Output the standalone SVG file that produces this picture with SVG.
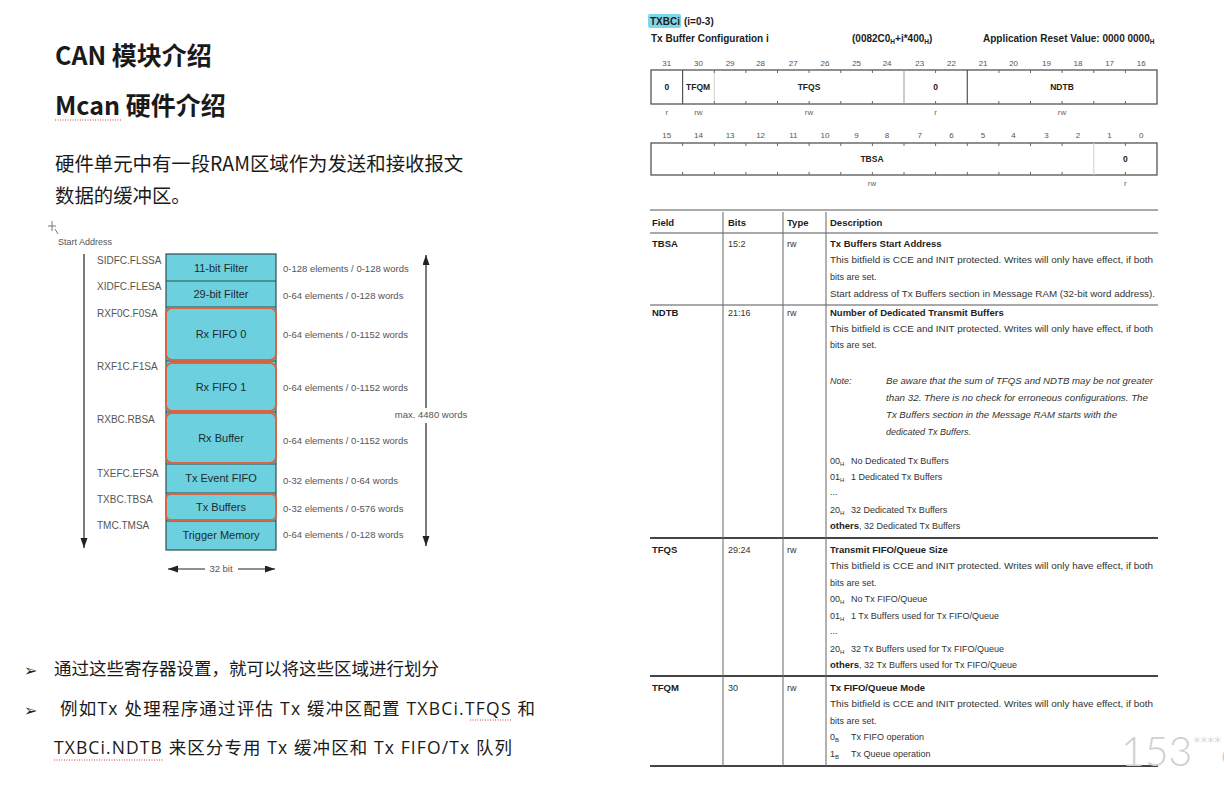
<svg xmlns="http://www.w3.org/2000/svg" width="1224" height="789" viewBox="0 0 1224 789">
  <style>
    .cjk { font-family: "Noto Sans CJK SC", "Noto Sans", sans-serif; fill: #1a1a1a; }
    .h1 { font-size: 25px; font-weight: 700; }
    .body { font-size: 19.4px; }
    .bul { font-family: "Open Sans", "Noto Sans CJK SC", sans-serif; font-size: 17.5px; fill: #1a1a1a; }
    .mark { font-family: "DejaVu Sans", sans-serif; font-size: 16px; fill: #222; }
    .spell { stroke: #d23c3c; stroke-width: 1; stroke-dasharray: 1 1.5; fill: none; }
    .mm { font-family: "Liberation Sans", Arial, sans-serif; fill: #555; }
    .addr { font-size: 10px; }
    .size { font-size: 9.5px; }
    .blk { font-size: 11px; fill: #1d2b30; text-anchor: middle; }
    .area { fill: #6dd0de; stroke: #2f4f55; stroke-width: 1.2; }
    .sep { stroke: #2f4f55; stroke-width: 1; }
    .hl { fill: none; stroke: #d9663f; stroke-width: 2; }
    .arr { stroke: #222; stroke-width: 1.2; fill: none; }
    .rt { font-family: "Liberation Sans", Arial, sans-serif; font-size: 9px; fill: #333; }
    .rb { font-weight: 700; fill: #1c1c1c; font-size: 9.5px; }
    .hd { font-family: "Liberation Sans", Arial, sans-serif; font-size: 10px; font-weight: 700; fill: #1c1c1c; }
    .ri { font-style: italic; }
    .num { font-family: "Liberation Sans", Arial, sans-serif; font-size: 8px; fill: #555; text-anchor: middle; }
    .acc { font-family: "Liberation Sans", Arial, sans-serif; font-size: 8px; fill: #666; text-anchor: middle; }
    .fld { font-family: "Liberation Sans", Arial, sans-serif; font-size: 8.5px; font-weight: 700; fill: #222; text-anchor: middle; }
    .fld-l { font-family: "Liberation Sans", Arial, sans-serif; font-size: 8.5px; font-weight: 700; fill: #222; }
    .reg { fill: none; stroke: #555; stroke-width: 1.3; }
    .tick { stroke: #666; stroke-width: 1; }
    .div-dark { stroke: #555; stroke-width: 1.2; }
    .div-mid { stroke: #999; stroke-width: 1; }
    .div-light { stroke: #d0d0d0; stroke-width: 1; }
    .tl { stroke: #555; stroke-width: 1; }
    .tl-thick { stroke: #444; stroke-width: 2; }
    .col { stroke: #666; stroke-width: 1; }
    .wm { font-family: Lato, "Open Sans", sans-serif; font-weight: 300; fill: #d0d0d0; }
  </style>
  <defs>
    <marker id="head" markerUnits="userSpaceOnUse" markerWidth="10" markerHeight="8" refX="10" refY="3.5" orient="auto">
      <path d="M0,0 L10,3.5 L0,7 z" fill="#222"/>
    </marker>
  </defs>

  <rect width="1224" height="789" fill="#ffffff"/>

  <!-- Slide headings -->
  <g id="titles">
    <text class="cjk h1" x="55" y="65">CAN 模块介绍</text>
    <text class="cjk h1" x="55" y="115">Mcan 硬件介绍</text>
    <line class="spell" x1="55" y1="120" x2="122" y2="120"/>
    <text class="cjk body" x="55" y="171">硬件单元中有一段RAM区域作为发送和接收报文</text>
    <text class="cjk body" x="55" y="203">数据的缓冲区。</text>
  </g>

  <!-- Message RAM layout -->
  <g id="memory-map">
    <g stroke="#777" stroke-width="1">
      <line x1="52" y1="221" x2="52" y2="231"/>
      <line x1="48" y1="226" x2="56" y2="226"/>
      <line x1="55" y1="229" x2="58" y2="234"/>
    </g>
    <text class="mm" x="58" y="245" font-size="9">Start Address</text>

    <rect class="area" x="166" y="254" width="110" height="296"/>
    <line class="sep" x1="166" y1="281" x2="276" y2="281"/>
    <line class="sep" x1="166" y1="307" x2="276" y2="307"/>
    <line class="sep" x1="166" y1="361" x2="276" y2="361"/>
    <line class="sep" x1="166" y1="412" x2="276" y2="412"/>
    <line class="sep" x1="166" y1="464" x2="276" y2="464"/>
    <line class="sep" x1="166" y1="493" x2="276" y2="493"/>
    <line class="sep" x1="166" y1="521" x2="276" y2="521"/>

    <rect class="hl" x="166" y="308" width="110" height="52" rx="6"/>
    <rect class="hl" x="166" y="363" width="110" height="48" rx="6"/>
    <rect class="hl" x="166" y="413" width="110" height="50" rx="6"/>
    <rect class="hl" x="166" y="494" width="110" height="26" rx="5"/>

    <text class="mm blk" x="221" y="272">11-bit Filter</text>
    <text class="mm blk" x="221" y="298">29-bit Filter</text>
    <text class="mm blk" x="221" y="338">Rx FIFO 0</text>
    <text class="mm blk" x="221" y="391">Rx FIFO 1</text>
    <text class="mm blk" x="221" y="442">Rx Buffer</text>
    <text class="mm blk" x="221" y="482">Tx Event FIFO</text>
    <text class="mm blk" x="221" y="511">Tx Buffers</text>
    <text class="mm blk" x="221" y="539">Trigger Memory</text>

    <text class="mm addr" x="97" y="264">SIDFC.FLSSA</text>
    <text class="mm addr" x="97" y="290">XIDFC.FLESA</text>
    <text class="mm addr" x="97" y="317">RXF0C.F0SA</text>
    <text class="mm addr" x="97" y="370">RXF1C.F1SA</text>
    <text class="mm addr" x="97" y="423">RXBC.RBSA</text>
    <text class="mm addr" x="97" y="477">TXEFC.EFSA</text>
    <text class="mm addr" x="97" y="503">TXBC.TBSA</text>
    <text class="mm addr" x="97" y="529">TMC.TMSA</text>

    <text class="mm size" x="283" y="272">0-128 elements / 0-128 words</text>
    <text class="mm size" x="283" y="299">0-64 elements / 0-128 words</text>
    <text class="mm size" x="283" y="338">0-64 elements / 0-1152 words</text>
    <text class="mm size" x="283" y="391">0-64 elements / 0-1152 words</text>
    <text class="mm size" x="283" y="444">0-64 elements / 0-1152 words</text>
    <text class="mm size" x="283" y="484">0-32 elements / 0-64 words</text>
    <text class="mm size" x="283" y="512">0-32 elements / 0-576 words</text>
    <text class="mm size" x="283" y="538">0-64 elements / 0-128 words</text>

    <text class="mm size" x="431" y="418" text-anchor="middle">max. 4480 words</text>
    <text class="mm size" x="221" y="572" text-anchor="middle">32 bit</text>
  </g>

  <g id="connectors">
    <line class="arr" x1="84" y1="254" x2="84" y2="548" marker-end="url(#head)"/>
    <line class="arr" x1="426" y1="408" x2="426" y2="255" marker-end="url(#head)"/>
    <line class="arr" x1="426" y1="423" x2="426" y2="546" marker-end="url(#head)"/>
    <line class="arr" x1="205" y1="569" x2="168" y2="569" marker-end="url(#head)"/>
    <line class="arr" x1="238" y1="569" x2="275" y2="569" marker-end="url(#head)"/>
  </g>

  <!-- Bullet notes -->
  <g id="notes">
    <text class="mark" x="24" y="676">➢</text>
    <text class="bul" x="54" y="675">通过这些寄存器设置，就可以将这些区域进行划分</text>
    <text class="mark" x="24" y="716">➢</text>
    <text class="bul" x="60" y="715" textLength="475" lengthAdjust="spacing">例如Tx 处理程序通过评估 Tx 缓冲区配置 TXBCi.TFQS 和</text>
    <line class="spell" x1="470" y1="720" x2="511" y2="720"/>
    <text class="bul" x="54" y="754" textLength="458" lengthAdjust="spacing">TXBCi.NDTB 来区分专用 Tx 缓冲区和 Tx FIFO/Tx 队列</text>
    <line class="spell" x1="54" y1="760" x2="163" y2="760"/>
  </g>

  <!-- TXBCi register header -->
  <g id="register-header">
    <rect x="648" y="14" width="33" height="14" rx="2" fill="#7fd6ea"/>
    <text class="hd" x="650" y="25" font-size="9.5">TXBCi</text>
    <text class="hd" x="684" y="25" font-size="9.5">(i=0-3)</text>
    <text class="hd" x="651" y="42">Tx Buffer Configuration i</text>
    <text class="hd" x="852" y="42">(0082C0<tspan font-size="6.5" dy="2">H</tspan><tspan dy="-2">+i*400</tspan><tspan font-size="6.5" dy="2">H</tspan><tspan dy="-2">)</tspan></text>
    <text class="hd" x="983" y="42">Application Reset Value: 0000 0000<tspan font-size="6.5" dy="2">H</tspan></text>
  </g>

  <!-- Upper half-word, bits 31..16 -->
  <g id="register-high">
    <text class="num" y="66">
      <tspan x="666.8">31</tspan><tspan x="698.4">30</tspan><tspan x="730.1">29</tspan><tspan x="761.7">28</tspan>
      <tspan x="793.3">27</tspan><tspan x="825">26</tspan><tspan x="856.6">25</tspan><tspan x="888.2">24</tspan>
      <tspan x="919.8">23</tspan><tspan x="951.5">22</tspan><tspan x="983.1">21</tspan><tspan x="1014.7">20</tspan>
      <tspan x="1046.4">19</tspan><tspan x="1078">18</tspan><tspan x="1109.6">17</tspan><tspan x="1141.2">16</tspan>
    </text>
    <rect class="reg" x="651" y="70" width="506" height="34"/>
    <g class="tick">
      <path d="M714.3,70v3M745.9,70v3M777.5,70v3M809.1,70v3M840.8,70v3M872.4,70v3M935.6,70v3M998.9,70v3M1030.5,70v3M1062.1,70v3M1093.8,70v3M1125.4,70v3"/>
      <path d="M714.3,104v-3M745.9,104v-3M777.5,104v-3M809.1,104v-3M840.8,104v-3M872.4,104v-3M935.6,104v-3M998.9,104v-3M1030.5,104v-3M1062.1,104v-3M1093.8,104v-3M1125.4,104v-3"/>
    </g>
    <line class="div-dark" x1="682.6" y1="70" x2="682.6" y2="104"/>
    <line class="div-light" x1="714.3" y1="73" x2="714.3" y2="101"/>
    <line class="div-mid" x1="904" y1="70" x2="904" y2="104"/>
    <line class="div-dark" x1="967.3" y1="70" x2="967.3" y2="104"/>
    <text class="fld" x="666.8" y="90">0</text>
    <text class="fld-l" x="686" y="90">TFQM</text>
    <text class="fld" x="809" y="90">TFQS</text>
    <text class="fld" x="935.6" y="90">0</text>
    <text class="fld" x="1062" y="90">NDTB</text>
    <text class="acc" y="115">
      <tspan x="666.8">r</tspan><tspan x="698.4">rw</tspan><tspan x="809">rw</tspan><tspan x="935.6">r</tspan><tspan x="1062">rw</tspan>
    </text>
  </g>

  <!-- Lower half-word, bits 15..0 -->
  <g id="register-low">
    <text class="num" y="138">
      <tspan x="666.8">15</tspan><tspan x="698.4">14</tspan><tspan x="730.1">13</tspan><tspan x="761.7">12</tspan>
      <tspan x="793.3">11</tspan><tspan x="825">10</tspan><tspan x="856.6">9</tspan><tspan x="888.2">8</tspan>
      <tspan x="919.8">7</tspan><tspan x="951.5">6</tspan><tspan x="983.1">5</tspan><tspan x="1014.7">4</tspan>
      <tspan x="1046.4">3</tspan><tspan x="1078">2</tspan><tspan x="1109.6">1</tspan><tspan x="1141.2">0</tspan>
    </text>
    <rect class="reg" x="651" y="143" width="506" height="32"/>
    <g class="tick">
      <path d="M682.6,143v3M714.3,143v3M745.9,143v3M777.5,143v3M809.1,143v3M840.8,143v3M872.4,143v3M904,143v3M935.6,143v3M967.3,143v3M998.9,143v3M1030.5,143v3M1062.1,143v3M1125.4,143v3"/>
      <path d="M682.6,175v-3M714.3,175v-3M745.9,175v-3M777.5,175v-3M809.1,175v-3M840.8,175v-3M872.4,175v-3M904,175v-3M935.6,175v-3M967.3,175v-3M998.9,175v-3M1030.5,175v-3M1062.1,175v-3M1125.4,175v-3"/>
    </g>
    <line class="div-light" x1="1093.8" y1="143" x2="1093.8" y2="175"/>
    <text class="fld" x="872" y="162">TBSA</text>
    <text class="fld" x="1125.4" y="162">0</text>
    <text class="acc" y="186"><tspan x="872">rw</tspan><tspan x="1125.4">r</tspan></text>
  </g>

  <!-- Field description table -->
  <g id="field-table">
    <line class="tl" x1="650" y1="210" x2="1158" y2="210" stroke-width="1.5"/>
    <line class="tl" x1="650" y1="233" x2="1158" y2="233"/>
    <line class="tl" x1="650" y1="305" x2="1158" y2="305"/>
    <line class="tl-thick" x1="650" y1="538" x2="1158" y2="538"/>
    <line class="tl-thick" x1="650" y1="676" x2="1158" y2="676"/>
    <line class="tl-thick" x1="650" y1="766" x2="1158" y2="766"/>
    <line class="col" x1="723" y1="212" x2="723" y2="766"/>
    <line class="col" x1="783" y1="212" x2="783" y2="766"/>
    <line class="col" x1="826" y1="212" x2="826" y2="766"/>

    <text class="rt rb" x="652" y="226">Field</text>
    <text class="rt rb" x="728" y="226">Bits</text>
    <text class="rt rb" x="787" y="226">Type</text>
    <text class="rt rb" x="830" y="226">Description</text>
  </g>

  <g id="row-tbsa">
    <text class="rt rb" x="652" y="247">TBSA</text>
    <text class="rt" x="728" y="247">15:2</text>
    <text class="rt" x="787" y="247">rw</text>
    <text class="rt rb" x="830" y="247">Tx Buffers Start Address</text>
    <text class="rt" x="830" y="263" textLength="323" lengthAdjust="spacingAndGlyphs">This bitfield is CCE and INIT protected. Writes will only have effect, if both</text>
    <text class="rt" x="830" y="280">bits are set.</text>
    <text class="rt" x="830" y="297" textLength="325" lengthAdjust="spacingAndGlyphs">Start address of Tx Buffers section in Message RAM (32-bit word address).</text>
  </g>

  <g id="row-ndtb">
    <text class="rt rb" x="652" y="316">NDTB</text>
    <text class="rt" x="728" y="316">21:16</text>
    <text class="rt" x="787" y="316">rw</text>
    <text class="rt rb" x="830" y="316">Number of Dedicated Transmit Buffers</text>
    <text class="rt" x="830" y="332" textLength="323" lengthAdjust="spacingAndGlyphs">This bitfield is CCE and INIT protected. Writes will only have effect, if both</text>
    <text class="rt" x="830" y="348">bits are set.</text>
    <text class="rt ri" x="830" y="384">Note:</text>
    <text class="rt ri" x="886" y="384" textLength="267" lengthAdjust="spacingAndGlyphs">Be aware that the sum of TFQS and NDTB may be not greater</text>
    <text class="rt ri" x="886" y="401" textLength="262" lengthAdjust="spacingAndGlyphs">than 32. There is no check for erroneous configurations. The</text>
    <text class="rt ri" x="886" y="418" textLength="231" lengthAdjust="spacingAndGlyphs">Tx Buffers section in the Message RAM starts with the</text>
    <text class="rt ri" x="886" y="435">dedicated Tx Buffers.</text>
    <text class="rt" x="830" y="464">00<tspan font-size="6" dy="2">H</tspan></text>
    <text class="rt" x="851" y="464">No Dedicated Tx Buffers</text>
    <text class="rt" x="830" y="480">01<tspan font-size="6" dy="2">H</tspan></text>
    <text class="rt" x="851" y="480">1 Dedicated Tx Buffers</text>
    <text class="rt" x="830" y="495">...</text>
    <text class="rt" x="830" y="513">20<tspan font-size="6" dy="2">H</tspan></text>
    <text class="rt" x="851" y="513">32 Dedicated Tx Buffers</text>
    <text class="rt" x="830" y="529"><tspan class="rb">others</tspan>, 32 Dedicated Tx Buffers</text>
  </g>

  <g id="row-tfqs">
    <text class="rt rb" x="652" y="553">TFQS</text>
    <text class="rt" x="728" y="553">29:24</text>
    <text class="rt" x="787" y="553">rw</text>
    <text class="rt rb" x="830" y="553">Transmit FIFO/Queue Size</text>
    <text class="rt" x="830" y="569" textLength="323" lengthAdjust="spacingAndGlyphs">This bitfield is CCE and INIT protected. Writes will only have effect, if both</text>
    <text class="rt" x="830" y="586">bits are set.</text>
    <text class="rt" x="830" y="602">00<tspan font-size="6" dy="2">H</tspan></text>
    <text class="rt" x="851" y="602">No Tx FIFO/Queue</text>
    <text class="rt" x="830" y="619">01<tspan font-size="6" dy="2">H</tspan></text>
    <text class="rt" x="851" y="619">1 Tx Buffers used for Tx FIFO/Queue</text>
    <text class="rt" x="830" y="634">...</text>
    <text class="rt" x="830" y="652">20<tspan font-size="6" dy="2">H</tspan></text>
    <text class="rt" x="851" y="652">32 Tx Buffers used for Tx FIFO/Queue</text>
    <text class="rt" x="830" y="668"><tspan class="rb">others</tspan>, 32 Tx Buffers used for Tx FIFO/Queue</text>
  </g>

  <g id="row-tfqm">
    <text class="rt rb" x="652" y="691">TFQM</text>
    <text class="rt" x="728" y="691">30</text>
    <text class="rt" x="787" y="691">rw</text>
    <text class="rt rb" x="830" y="691">Tx FIFO/Queue Mode</text>
    <text class="rt" x="830" y="707" textLength="323" lengthAdjust="spacingAndGlyphs">This bitfield is CCE and INIT protected. Writes will only have effect, if both</text>
    <text class="rt" x="830" y="724">bits are set.</text>
    <text class="rt" x="830" y="740">0<tspan font-size="6" dy="2">B</tspan></text>
    <text class="rt" x="851" y="740">Tx FIFO operation</text>
    <text class="rt" x="830" y="757">1<tspan font-size="6" dy="2">B</tspan></text>
    <text class="rt" x="851" y="757">Tx Queue operation</text>
  </g>

  <text class="wm" x="1121" y="766" font-size="41">153<tspan font-size="22" dy="-13" letter-spacing="-2.5">****</tspan><tspan dy="13">6</tspan></text>
</svg>
